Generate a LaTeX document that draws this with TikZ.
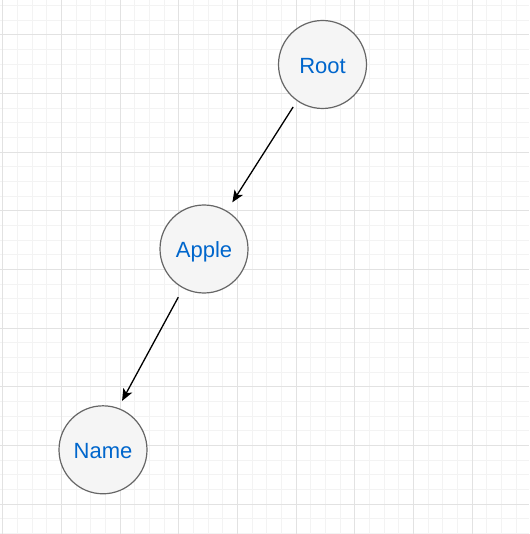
\documentclass[tikz,border=0pt]{standalone}
\usepackage{fontspec}
\setmainfont{Liberation Sans}
\usetikzlibrary{arrows.meta}
\definecolor{minorgrid}{HTML}{F3F3F3}
\definecolor{majorgrid}{HTML}{E2E2E2}
\definecolor{nodefill}{HTML}{F5F5F5}
\definecolor{nodeline}{HTML}{666666}
\definecolor{nodetext}{HTML}{0066CC}
\tikzset{
  treenode/.style={circle, draw=nodeline, fill=nodefill, line width=1.2pt,
    minimum size=88pt, inner sep=0pt, text=nodetext,
    text height=17.5pt, text depth=0pt,
    font=\fontsize{22}{26}\selectfont},
  edge/.style={line width=1.3pt, -{Stealth[length=12pt, width=10pt, inset=3pt]}},
  minorline/.style={draw=minorgrid, line width=0.9pt},
  majorline/.style={draw=majorgrid, line width=0.9pt}
}
\begin{document}
\begin{tikzpicture}[x=1pt, y=-1pt]
\useasboundingbox (0,0) rectangle (529,534);
\fill[white] (0,0) rectangle (529,534);
% minor grid
\foreach \i in {0,...,36} {
  \draw[minorline] ({2.667+14.667*\i},0) -- ({2.667+14.667*\i},534);
}
\foreach \i in {0,...,36} {
  \draw[minorline] (0,{5.333+14.667*\i}) -- (529,{5.333+14.667*\i});
}
% major grid
\foreach \i in {0,...,9} {
  \draw[majorline] ({2.667+58.667*\i},0) -- ({2.667+58.667*\i},534);
}
\foreach \i in {0,...,9} {
  \draw[majorline] (0,{34.667+58.667*\i}) -- (529,{34.667+58.667*\i});
}
\node[treenode] (root) at (322.5,64.5) {Root};
\node[treenode] (apple) at (204,249) {Apple};
\node[treenode] (name) at (103,449.8) {Name};
\draw[edge, shorten <=7pt, shorten >=10pt] (root.235) -- (apple.59);
\draw[edge, shorten <=10pt, shorten >=8pt] (apple.242) -- (name.70);
\end{tikzpicture}
\end{document}
